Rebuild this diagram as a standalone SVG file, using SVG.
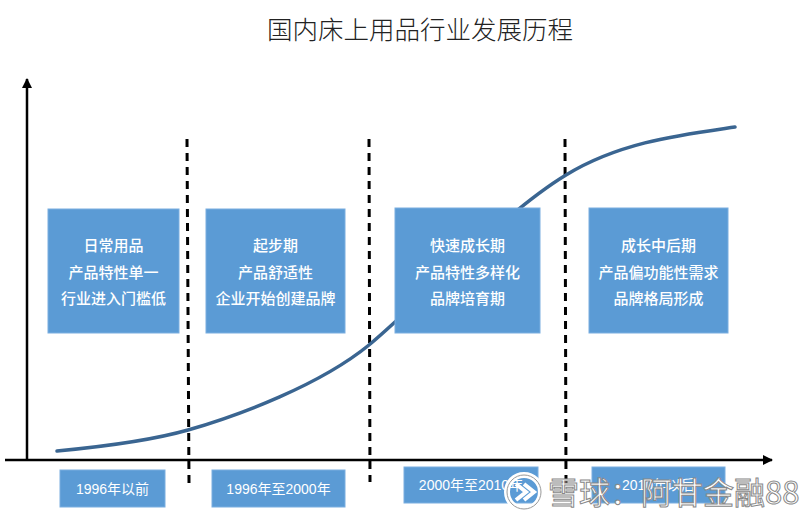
<svg xmlns="http://www.w3.org/2000/svg" width="800" height="517" viewBox="0 0 800 517">
<defs>
<style>
.box{fill:#5b9bd5;stroke:#7aaee0;stroke-width:1}
.bt{font-family:"Noto Sans CJK SC",sans-serif;font-size:15px;fill:#fff;text-anchor:middle;font-weight:500}
.lt{font-family:"Liberation Sans","Noto Sans CJK SC",sans-serif;font-size:14px;fill:#fff;text-anchor:middle}
.dash{stroke:#000;stroke-width:3;stroke-dasharray:8,6;fill:none}
.axis{stroke:#000;stroke-width:2.5;fill:none}
</style>
<marker id="arr" viewBox="0 0 10 10" refX="9" refY="5" markerWidth="4" markerHeight="4" orient="auto" markerUnits="strokeWidth">
<path d="M0,0 L10,5 L0,10 z" fill="#000"/>
</marker>
</defs>
<rect width="800" height="517" fill="#fff"/>
<text x="420" y="39" font-family="Noto Sans CJK SC,sans-serif" font-size="25.5" font-weight="300" fill="#222" text-anchor="middle">国内床上用品行业发展历程</text>
<g id="connectors">
<line class="axis" x1="27" y1="461" x2="27" y2="79" marker-end="url(#arr)"/>
<line class="axis" x1="5" y1="460" x2="772" y2="460" marker-end="url(#arr)"/>
<line class="dash" x1="187" y1="139" x2="189" y2="484"/>
<line class="dash" x1="369" y1="139" x2="370" y2="482"/>
<line class="dash" x1="565" y1="139" x2="566" y2="484"/>
<path d="M57,451 C110,446 160,438 188,430 C240,415 320,385 369,345 C420,303 500,215 566,175 C620,142 680,135 735,127" fill="none" stroke="#3a6591" stroke-width="3.5" stroke-linecap="round"/>
</g>
<g id="stage1">
<rect class="box" x="48" y="209" width="131" height="124"/>
<text class="bt" x="113.5" y="251">日常用品</text>
<text class="bt" x="113.5" y="278">产品特性单一</text>
<text class="bt" x="113.5" y="304">行业进入门槛低</text>
</g>
<g id="stage2">
<rect class="box" x="206" y="209" width="139" height="124"/>
<text class="bt" x="275.5" y="251">起步期</text>
<text class="bt" x="275.5" y="278">产品舒适性</text>
<text class="bt" x="275.5" y="304">企业开始创建品牌</text>
</g>
<g id="stage3">
<rect class="box" x="395" y="208" width="145" height="125"/>
<text class="bt" x="467.5" y="251">快速成长期</text>
<text class="bt" x="467.5" y="278">产品特性多样化</text>
<text class="bt" x="467.5" y="304">品牌培育期</text>
</g>
<g id="stage4">
<rect class="box" x="589" y="208" width="139" height="125"/>
<text class="bt" x="658.5" y="251">成长中后期</text>
<text class="bt" x="658.5" y="278">产品偏功能性需求</text>
<text class="bt" x="658.5" y="304">品牌格局形成</text>
</g>
<g id="label1">
<rect class="box" x="60" y="470" width="105" height="37"/>
<text class="lt" x="112.5" y="494">1996年以前</text>
</g>
<g id="label2">
<rect class="box" x="212" y="470" width="133" height="37"/>
<text class="lt" x="278.5" y="494">1996年至2000年</text>
</g>
<g id="label3">
<rect class="box" x="404" y="467" width="134" height="36"/>
<text class="lt" x="471" y="490">2000年至2010年</text>
</g>
<g id="label4">
<rect class="box" x="592" y="467" width="133" height="36"/>
<text class="lt" x="658.5" y="490">2010年以后</text>
</g>
<g id="watermark">
<circle cx="524" cy="492" r="17" fill="none" stroke="#fff" stroke-width="6"/>
<circle cx="524" cy="492" r="17" fill="none" stroke="#999" stroke-width="1"/>
<path d="M516,484 L526,492 L516,500 M524,484 L534,492 L524,500" fill="none" stroke="#fff" stroke-width="4"/>
<text x="548" y="504" font-family="Noto Sans CJK SC,sans-serif" font-size="31" fill="#fff" stroke="#888" stroke-width="1">雪球：阿甘金融88</text>
</g>
</svg>
